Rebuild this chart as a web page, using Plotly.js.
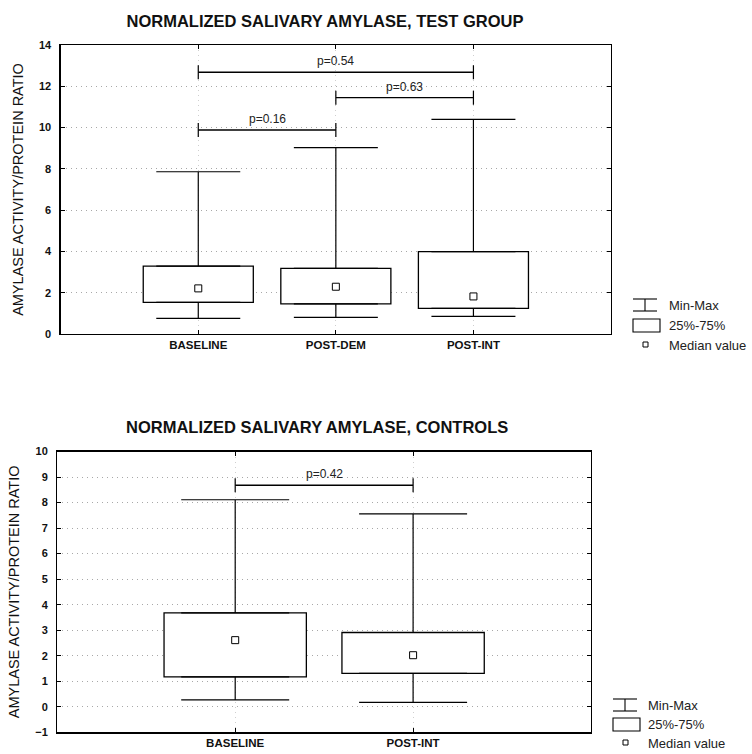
<!DOCTYPE html>
<html>
<head>
<meta charset="utf-8">
<script src="https://cdn.plot.ly/plotly-3.0.1.min.js"></script>
<style>html,body{margin:0;padding:0;background:#fff;}#chart{width:752px;height:754px;}</style>
</head>
<body>
<div id="chart"></div>
<script>
// ---------- data: test group ----------
const groupsTest = ['BASELINE', 'POST-DEM', 'POST-INT'];
const minTest    = [0.76, 0.81, 0.85];
const q1Test     = [1.53, 1.46, 1.24];
const medTest    = [2.21, 2.29, 1.82];
const q3Test     = [3.29, 3.18, 3.99];
const maxTest    = [7.86, 9.03, 10.40];
const compTestA  = ['BASELINE', 'POST-DEM', 'BASELINE'];
const compTestB  = ['POST-INT', 'POST-INT', 'POST-DEM'];
const pTest      = ['p=0.54', 'p=0.63', 'p=0.16'];
const levelTest  = [12.68, 11.45, 9.88];

// ---------- data: controls ----------
const groupsCtrl = ['BASELINE', 'POST-INT'];
const minCtrl    = [0.27, 0.17];
const q1Ctrl     = [1.17, 1.31];
const medCtrl    = [2.61, 2.02];
const q3Ctrl     = [3.68, 2.91];
const maxCtrl    = [8.11, 7.56];
const compCtrlA  = ['BASELINE'];
const compCtrlB  = ['POST-INT'];
const pCtrl      = ['p=0.42'];
const levelCtrl  = [8.68];

// ---------- legend / titles ----------
const legendLabels = ['Min-Max', '25%-75%', 'Median value'];
const titleTest = 'NORMALIZED SALIVARY AMYLASE, TEST GROUP';
const titleCtrl = 'NORMALIZED SALIVARY AMYLASE, CONTROLS';
const yTitle = 'AMYLASE ACTIVITY/PROTEIN RATIO';

const W = 752, H = 754;
const px = v => v / W;
const py = v => 1 - v / H;
const FONT = 'Liberation Sans, Arial, Helvetica, sans-serif';

function boxTraces(groups, mn, q1, med, q3, mx, xa, ya, capW) {
  const tr = [];
  tr.push({
    type: 'bar', x: groups, y: q3.map((v, i) => v - q1[i]), base: q1,
    width: 0.8, xaxis: xa, yaxis: ya, hoverinfo: 'skip',
    marker: {color: '#ffffff', line: {color: '#000', width: 1.3}}
  });
  tr.push({
    type: 'scatter', mode: 'markers', x: groups, y: q3, xaxis: xa, yaxis: ya,
    marker: {size: 1, color: 'rgba(0,0,0,0)'}, hoverinfo: 'skip',
    error_y: {type: 'data', symmetric: false, array: mx.map((v, i) => v - q3[i]),
      arrayminus: q3.map(() => 0), width: capW, thickness: 1.2, color: '#000'}
  });
  tr.push({
    type: 'scatter', mode: 'markers', x: groups, y: q1, xaxis: xa, yaxis: ya,
    marker: {size: 1, color: 'rgba(0,0,0,0)'}, hoverinfo: 'skip',
    error_y: {type: 'data', symmetric: false, array: q1.map(() => 0),
      arrayminus: q1.map((v, i) => v - mn[i]), width: capW, thickness: 1.2, color: '#000'}
  });
  tr.push({
    type: 'scatter', mode: 'markers', x: groups, y: med, xaxis: xa, yaxis: ya,
    marker: {symbol: 'square-open', size: 7, color: '#000', line: {width: 1}}
  });
  return tr;
}

function bracketTraces(a, b, lvl, xa, ya) {
  return a.map((g, i) => ({
    type: 'scatter', mode: 'lines+markers', x: [g, b[i]], y: [lvl[i], lvl[i]],
    xaxis: xa, yaxis: ya, hoverinfo: 'skip',
    line: {color: '#000', width: 1.4},
    marker: {symbol: 'line-ns-open', size: 10, color: '#000', line: {width: 1.2, color: '#000'}}
  }));
}

function pAnnotations(groups, a, b, lvl, labels, xa, ya) {
  return labels.map((t, i) => ({
    xref: xa, yref: ya,
    x: (groups.indexOf(a[i]) + groups.indexOf(b[i])) / 2, y: lvl[i],
    text: t, showarrow: false, yanchor: 'bottom', yshift: 2,
    font: {family: FONT, size: 12, color: '#222'}
  }));
}

const data = [].concat(
  boxTraces(groupsTest, minTest, q1Test, medTest, q3Test, maxTest, 'x', 'y', 42),
  bracketTraces(compTestA, compTestB, levelTest, 'x', 'y'),
  boxTraces(groupsCtrl, minCtrl, q1Ctrl, medCtrl, q3Ctrl, maxCtrl, 'x2', 'y2', 54),
  bracketTraces(compCtrlA, compCtrlB, levelCtrl, 'x2', 'y2')
);

const axisCommon = {
  showline: true, linecolor: '#000', linewidth: 1.3, mirror: 'ticks',
  ticks: 'inside', ticklen: 4, tickcolor: '#000',
  showgrid: true, gridcolor: '#a8a8a8', griddash: '1px,4px', gridwidth: 1,
  zeroline: false, fixedrange: true
};

// legend built as annotations + small key shapes
function legendItems(xIcon, xText, rows) {
  const ann = [], shp = [];
  const line = (x0, y0, x1, y1) => ({type: 'line', xref: 'paper', yref: 'paper',
    x0: px(x0), y0: py(y0), x1: px(x1), y1: py(y1), line: {color: '#000', width: 1.1}});
  // Min-Max key
  shp.push(line(xIcon, rows[0] - 6, xIcon + 24, rows[0] - 6));
  shp.push(line(xIcon + 12, rows[0] - 6, xIcon + 12, rows[0] + 6));
  shp.push(line(xIcon, rows[0] + 6, xIcon + 24, rows[0] + 6));
  // 25%-75% key
  shp.push({type: 'rect', xref: 'paper', yref: 'paper', x0: px(xIcon), x1: px(xIcon + 27),
    y0: py(rows[1] - 6), y1: py(rows[1] + 7), line: {color: '#000', width: 1.1}, fillcolor: '#fff'});
  // median key
  shp.push({type: 'rect', xref: 'paper', yref: 'paper', x0: px(xIcon + 10), x1: px(xIcon + 15),
    y0: py(rows[2] - 3), y1: py(rows[2] + 2), line: {color: '#000', width: 1}, fillcolor: '#fff'});
  legendLabels.forEach((t, i) => ann.push({xref: 'paper', yref: 'paper', x: px(xText), y: py(rows[i]),
    xanchor: 'left', yanchor: 'middle', text: t, showarrow: false,
    font: {family: FONT, size: 13, color: '#222'}}));
  return {ann, shp};
}
const legTop = legendItems(633, 667, [305, 325, 345]);
const legBot = legendItems(613, 646, [705, 724, 743]);

const layout = {
  width: W, height: H, margin: {l: 0, r: 0, t: 0, b: 0},
  paper_bgcolor: '#fff', plot_bgcolor: '#fff', showlegend: false,
  font: {family: FONT, color: '#111'},
  title: {text: titleTest, x: px(325), xanchor: 'center', y: py(21), yanchor: 'middle', yref: 'paper',
    font: {family: FONT, size: 16.5, weight: 'bold', color: '#111'}},
  xaxis: Object.assign({}, axisCommon, {
    domain: [px(60.7), px(611)], anchor: 'y', type: 'category', range: [-1, 3],
    tickfont: {family: FONT, size: 11.5, weight: 'bold', color: '#111'}, gridcolor: '#cfcfcf'
  }),
  yaxis: Object.assign({}, axisCommon, {
    domain: [py(334), py(45)], anchor: 'x', range: [0, 14], dtick: 2, tick0: 0,
    tickfont: {family: FONT, size: 11, weight: 'bold', color: '#111'}, ticklabelstandoff: 6,
    title: {text: yTitle, standoff: 12, font: {family: FONT, size: 14.5, color: '#111'}}
  }),
  xaxis2: Object.assign({}, axisCommon, {
    domain: [px(57.3), px(591)], anchor: 'y2', type: 'category', range: [-1, 2],
    tickfont: {family: FONT, size: 11.5, weight: 'bold', color: '#111'}, gridcolor: '#cfcfcf'
  }),
  yaxis2: Object.assign({}, axisCommon, {
    domain: [py(732.3), py(451.5)], anchor: 'x2', range: [-1, 10], dtick: 1, tick0: 0,
    tickfont: {family: FONT, size: 11, weight: 'bold', color: '#111'}, ticklabelstandoff: 6,
    title: {text: yTitle, standoff: 12, font: {family: FONT, size: 14.5, color: '#111'}}
  }),
  annotations: [].concat(
    pAnnotations(groupsTest, compTestA, compTestB, levelTest, pTest, 'x', 'y'),
    pAnnotations(groupsCtrl, compCtrlA, compCtrlB, levelCtrl, pCtrl, 'x2', 'y2'),
    [{xref: 'paper', yref: 'paper', x: px(317), y: py(427), xanchor: 'center', yanchor: 'middle',
      text: titleCtrl, showarrow: false, font: {family: FONT, size: 16.5, weight: 'bold', color: '#111'}}],
    legTop.ann, legBot.ann
  ),
  shapes: [].concat(legTop.shp, legBot.shp)
};

Plotly.newPlot('chart', data, layout, {staticPlot: true, displayModeBar: false});
</script>
</body>
</html>
